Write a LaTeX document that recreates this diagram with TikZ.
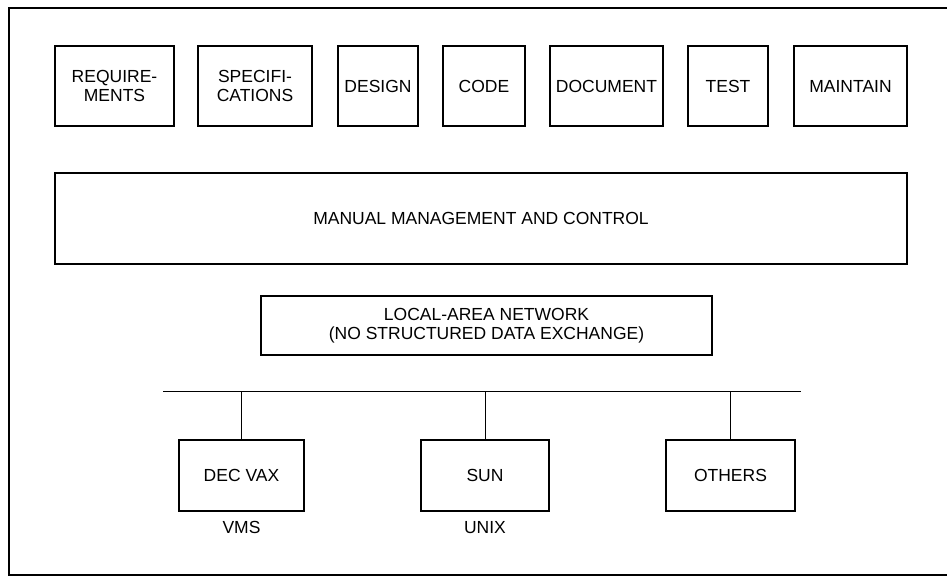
\documentclass[tikz,border=0pt]{standalone}
\usepackage{fontspec}
\setsansfont{Liberation Sans}
\usetikzlibrary{positioning,calc}

\begin{document}
\begin{tikzpicture}[x=1pt,y=-1pt,font=\sffamily\fontsize{17.5}{19}\selectfont,
  box/.style={draw,line width=1.4pt,inner sep=0pt,align=center,minimum height=80pt},
  wire/.style={line width=0.9pt}]
  \useasboundingbox (0,0) rectangle (947,578);
  % ---- frame (open on the right) ----
  \draw[line width=1.1pt] (947,8) -- (9,8) -- (9,575) -- (947,575);
  % ---- life-cycle phases ----
  \node[box,minimum width=119pt] (req)  at (114.5,86) {REQUIRE-\\MENTS};
  \node[box,minimum width=114pt] (spec) at (255,86)   {SPECIFI-\\CATIONS};
  \node[box,minimum width=80pt]  (des)  at (378,86)   {DESIGN};
  \node[box,minimum width=82pt]  (code) at (484,86)   {CODE};
  \node[box,minimum width=113pt] (doc)  at (606.5,86) {DOCUMENT};
  \node[box,minimum width=80pt]  (test) at (728,86)   {TEST};
  \node[box,minimum width=113pt] (mnt)  at (850.5,86) {MAINTAIN};
  % ---- management layer ----
  \node[box,minimum width=852pt,minimum height=91pt] (mgmt) at (481,218.5) {MANUAL MANAGEMENT AND CONTROL};
  \node[box,minimum width=451pt,minimum height=59pt] (lan) at (486.5,325.5) {LOCAL-AREA NETWORK\\(NO STRUCTURED DATA EXCHANGE)};
  % ---- bus and hosts ----
  \coordinate (busl) at (163,391);
  \coordinate (busr) at (801,391);
  \draw[wire] (busl) -- (busr);
  \node[box,minimum width=125pt,minimum height=71pt] (vax) at (241.5,475.5) {DEC VAX};
  \node[box,minimum width=128pt,minimum height=71pt] (sun) at (485,475.5)   {SUN};
  \node[box,minimum width=129pt,minimum height=71pt] (oth) at (730.5,475.5) {OTHERS};
  \foreach \h in {vax,sun,oth}{
    \draw[wire] (\h.north) -- (\h.north |- busl);}
  \node[below=6pt of vax] (vms) {VMS};
  \node[below=6pt of sun] (unix) {UNIX};
\end{tikzpicture}
\end{document}
